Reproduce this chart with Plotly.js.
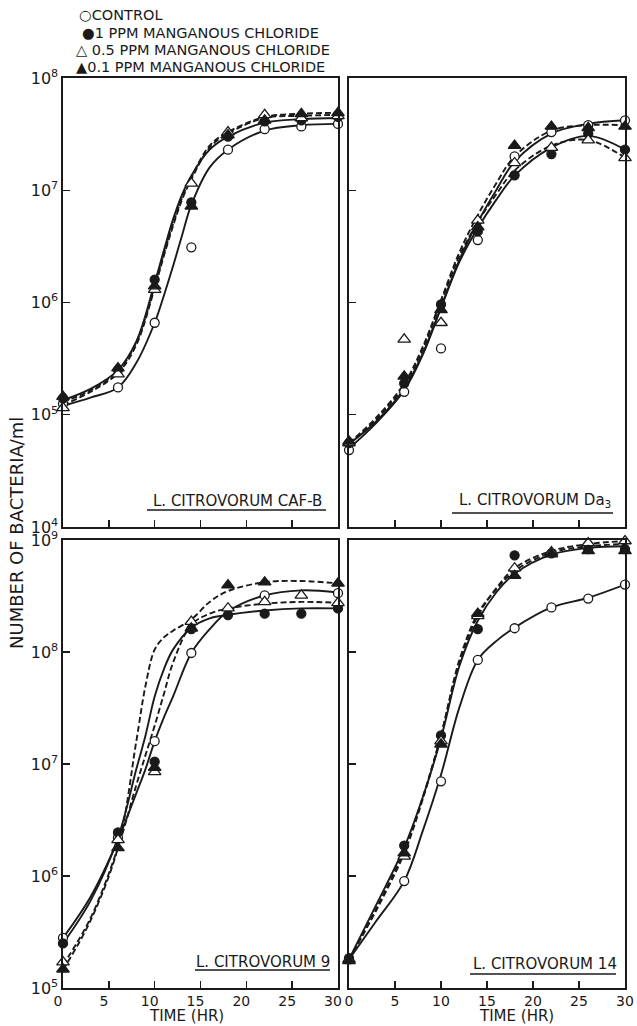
<!DOCTYPE html>
<html><head><meta charset="utf-8">
<script src="https://cdn.plot.ly/plotly-3.0.1.min.js"></script>
<style>html,body{margin:0;padding:0;background:#fff;}#chart{width:637px;height:1026px;}</style>
</head><body><div id="chart"></div>
<script>
// ---------- data ----------
const sampleTimes = [0, 6, 10, 14, 18, 22, 26, 30];
const seriesNames = ["CONTROL", "1 PPM MANGANOUS CHLORIDE", "0.5 PPM MANGANOUS CHLORIDE", "0.1 PPM MANGANOUS CHLORIDE"];
const legendSymbols = ["○", "●", "△ ", "▲"];
const panelTitles = ["L. CITROVORUM CAF-B", "L. CITROVORUM Da<sub>3</sub>", "L. CITROVORUM 9", "L. CITROVORUM 14"];
const xTickVals = [0, 5, 10, 15, 20, 25, 30];
const topYTickVals = [1e4, 1e5, 1e6, 1e7, 1e8];
const topYTickText = ["10<sup>4</sup>", "10<sup>5</sup>", "10<sup>6</sup>", "10<sup>7</sup>", "10<sup>8</sup>"];
const botYTickVals = [1e5, 1e6, 1e7, 1e8, 1e9];
const botYTickText = ["10<sup>5</sup>", "10<sup>6</sup>", "10<sup>7</sup>", "10<sup>8</sup>", "10<sup>9</sup>"];

// Panel 1: L. citrovorum CAF-B
const cafbControl = [1.25e5, 1.75e5, 6.6e5, 3.1e6, 2.3e7, 3.5e7, 3.7e7, 3.9e7];
const cafbMn1 = [1.4e5, 2.5e5, 1.6e6, 7.8e6, 3.0e7, 4.1e7, 4.2e7, 4.5e7];
const cafbMn05 = [1.15e5, 2.3e5, 1.3e6, 1.15e7, 3.3e7, 4.7e7, 4.4e7, 4.6e7];
const cafbMn01 = [1.45e5, 2.6e5, 1.4e6, 7.2e6, 3.1e7, 4.2e7, 4.8e7, 4.9e7];
const cafbFitTimes = [0, 3, 6, 8, 10, 11, 12, 13, 14, 16, 18, 22, 26, 30];
const cafbControlFit = [1.2e5, 1.42e5, 1.75e5, 2.9e5, 6.6e5, 1.15e6, 2.1e6, 4.0e6, 7.4e6, 1.6e7, 2.3e7, 3.4e7, 3.8e7, 3.9e7];
const cafbMn1Fit = [1.35e5, 1.7e5, 2.5e5, 4.5e5, 1.5e6, 2.9e6, 5.5e6, 9.2e6, 1.35e7, 2.3e7, 3.0e7, 4.0e7, 4.3e7, 4.4e7];
const cafbMn05Fit = [1.22e5, 1.6e5, 2.35e5, 4.2e5, 1.35e6, 2.6e6, 4.8e6, 8.3e6, 1.25e7, 2.4e7, 3.2e7, 4.4e7, 4.6e7, 4.7e7];
const cafbMn01Fit = [1.3e5, 1.65e5, 2.45e5, 4.4e5, 1.4e6, 2.7e6, 5.0e6, 8.6e6, 1.3e7, 2.5e7, 3.3e7, 4.5e7, 4.8e7, 4.9e7];

// Panel 2: L. citrovorum Da3
const da3Control = [4.85e4, 1.6e5, 3.9e5, 3.6e6, 2.0e7, 3.3e7, 3.8e7, 4.2e7];
const da3Mn1 = [5.6e4, 1.9e5, 9.6e5, 4.3e6, 1.36e7, 2.1e7, 3.2e7, 2.3e7];
const da3Mn05 = [5.6e4, 4.7e5, 6.6e5, 5.4e6, 1.75e7, 2.4e7, 2.8e7, 1.94e7];
const da3Mn01 = [5.8e4, 2.2e5, 8.6e5, 4.7e6, 2.5e7, 3.7e7, 3.6e7, 3.7e7];
const da3FitTimes = [0, 3, 6, 8, 10, 12, 14, 16, 18, 22, 26, 30];
const da3ControlFit = [5.0e4, 8.5e4, 1.65e5, 3.4e5, 9.0e5, 2.4e6, 5.2e6, 1.0e7, 1.8e7, 3.2e7, 3.9e7, 4.2e7];
const da3Mn1Fit = [5.5e4, 8.8e4, 1.7e5, 3.5e5, 9.0e5, 2.3e6, 4.6e6, 8.2e6, 1.35e7, 2.4e7, 3.05e7, 2.3e7];
const da3Mn05Fit = [5.5e4, 9.2e4, 1.8e5, 3.8e5, 1.0e6, 2.6e6, 5.2e6, 9.2e6, 1.5e7, 2.5e7, 2.8e7, 1.95e7];
const da3Mn01Fit = [5.6e4, 9.5e4, 1.9e5, 4.0e5, 1.05e6, 2.8e6, 6.0e6, 1.15e7, 2.0e7, 3.4e7, 3.8e7, 3.8e7];

// Panel 3: L. citrovorum 9
const s9Control = [2.8e5, 2.2e6, 1.6e7, 9.8e7, null, 3.2e8, null, 3.35e8];
const s9Mn1 = [2.5e5, 2.45e6, 1.05e7, 1.6e8, 2.14e8, 2.2e8, 2.2e8, 2.45e8];
const s9Mn05 = [1.7e5, 2.1e6, 8.5e6, 1.87e8, 2.46e8, 2.8e8, 3.2e8, 2.75e8];
const s9Mn01 = [1.47e5, 1.78e6, 9.3e6, 1.63e8, 3.95e8, 4.2e8, null, 4.1e8];
const s9FitTimes = [0, 3, 6, 8, 9, 10, 11, 12, 14, 16, 18, 22, 26, 30];
const s9ControlFit = [2.8e5, 6.5e5, 2.1e6, 5.5e6, 9.0e6, 1.6e7, 2.6e7, 4.0e7, 9.8e7, 1.6e8, 2.3e8, 3.2e8, 3.55e8, 3.4e8];
const s9Mn1Fit = [2.5e5, 6.0e5, 2.2e6, 9.0e6, 1.8e7, 4.0e7, 7.0e7, 1.05e8, 1.65e8, 2.0e8, 2.15e8, 2.35e8, 2.45e8, 2.45e8];
const s9Mn05Fit = [1.6e5, 4.2e5, 1.8e6, 6.5e6, 1.2e7, 2.2e7, 4.2e7, 8.0e7, 1.75e8, 2.2e8, 2.45e8, 2.7e8, 2.8e8, 2.75e8];
const s9Mn01Fit = [1.45e5, 4.0e5, 1.8e6, 1.6e7, 5.0e7, 1.05e8, 1.35e8, 1.55e8, 1.95e8, 2.8e8, 3.5e8, 4.2e8, 4.3e8, 4.1e8];

// Panel 4: L. citrovorum 14
const s14Control = [1.8e5, 9.0e5, 7.0e6, 8.5e7, 1.63e8, 2.5e8, 3.0e8, 4.0e8];
const s14Mn1 = [1.85e5, 1.87e6, 1.8e7, 1.6e8, 7.3e8, 7.6e8, 8.3e8, 8.3e8];
const s14Mn05 = [1.8e5, 1.5e6, 1.6e7, 2.1e8, 5.6e8, 7.8e8, 9.4e8, 9.8e8];
const s14Mn01 = [1.75e5, 1.6e6, 1.5e7, 2.2e8, 4.8e8, 7.5e8, 8.0e8, 8.0e8];
const s14FitTimes = [0, 3, 6, 8, 10, 12, 14, 16, 18, 22, 26, 30];
const s14ControlFit = [1.8e5, 4.0e5, 9.0e5, 2.5e6, 8.0e6, 3.2e7, 8.5e7, 1.25e8, 1.65e8, 2.5e8, 3.05e8, 4.0e8];
const s14Mn1Fit = [1.8e5, 5.6e5, 1.8e6, 5.0e6, 1.7e7, 7.5e7, 1.9e8, 3.4e8, 5.0e8, 7.4e8, 8.5e8, 8.8e8];
const s14Mn05Fit = [1.8e5, 5.2e5, 1.7e6, 5.0e6, 1.8e7, 8.0e7, 2.1e8, 3.7e8, 5.6e8, 8.0e8, 9.2e8, 9.8e8];
const s14Mn01Fit = [1.8e5, 5.0e5, 1.6e6, 4.8e6, 1.8e7, 8.5e7, 2.2e8, 3.6e8, 5.3e8, 7.7e8, 8.8e8, 9.2e8];

// ---------- build ----------
const W = 637, H = 1026;
const px = v => v / W;
const py = v => 1 - v / H;
const INK = '#1a1a1a';
const FONT = 'DejaVu Sans, Verdana, sans-serif';

const seriesStyle = [
  {dash: 'solid', symbol: 'circle', fill: '#ffffff', size: 9},
  {dash: 'solid', symbol: 'circle', fill: INK, size: 9},
  {dash: '6px,3px', symbol: 'triangle-up', fill: '#ffffff', size: 11},
  {dash: '6px,3px', symbol: 'triangle-up', fill: INK, size: 11}
];

const panels = [
  {xa: 'x', ya: 'y', fitT: cafbFitTimes, fits: [cafbControlFit, cafbMn1Fit, cafbMn05Fit, cafbMn01Fit], pts: [cafbControl, cafbMn1, cafbMn05, cafbMn01]},
  {xa: 'x2', ya: 'y2', fitT: da3FitTimes, fits: [da3ControlFit, da3Mn1Fit, da3Mn05Fit, da3Mn01Fit], pts: [da3Control, da3Mn1, da3Mn05, da3Mn01]},
  {xa: 'x3', ya: 'y3', fitT: s9FitTimes, fits: [s9ControlFit, s9Mn1Fit, s9Mn05Fit, s9Mn01Fit], pts: [s9Control, s9Mn1, s9Mn05, s9Mn01]},
  {xa: 'x4', ya: 'y4', fitT: s14FitTimes, fits: [s14ControlFit, s14Mn1Fit, s14Mn05Fit, s14Mn01Fit], pts: [s14Control, s14Mn1, s14Mn05, s14Mn01]}
];

const traces = [];
panels.forEach(p => {
  p.fits.forEach((f, i) => {
    traces.push({type: 'scatter', mode: 'lines', x: p.fitT, y: f, xaxis: p.xa, yaxis: p.ya,
      name: seriesNames[i] + ' (fit)', showlegend: false, hoverinfo: 'skip',
      line: {color: INK, width: 1.9, dash: seriesStyle[i].dash, shape: 'spline', smoothing: 1}});
  });
});
panels.forEach(p => {
  p.pts.forEach((v, i) => {
    const s = seriesStyle[i];
    traces.push({type: 'scatter', mode: 'markers', x: sampleTimes, y: v, xaxis: p.xa, yaxis: p.ya,
      name: seriesNames[i], showlegend: false, cliponaxis: false,
      marker: {symbol: s.symbol, size: s.size, color: s.fill, line: {color: INK, width: 1.3}}});
  });
});

const axisBase = {showline: true, linecolor: INK, linewidth: 1.6, mirror: true, ticks: 'inside',
  ticklen: 7, tickwidth: 1.4, tickcolor: INK, showgrid: false, zeroline: false,
  tickfont: {family: FONT, size: 16, color: INK}};

const xL = [63 / W, 338 / W], xR = [349 / W, 625 / W];
const yT = [1 - 527 / H, 1 - 78 / H], yB = [1 - 988 / H, 1 - 540 / H];

function xAxis(dom, anchor, labels, shift) {
  return Object.assign({}, axisBase, {domain: dom, anchor: anchor, range: [0, 30],
    tickmode: 'array', tickvals: labels ? xTickVals : xTickVals.slice(1, -1), showticklabels: labels,
    ticklabelshift: shift || 0, tickfont: {family: FONT, size: 14, color: INK}});
}
function yAxis(dom, anchor, vals, text, labels, rng) {
  return Object.assign({}, axisBase, {domain: dom, anchor: anchor, type: 'log', range: rng,
    tickmode: 'array', tickvals: vals, ticktext: text, showticklabels: labels});
}

const annotations = [];
// legend lines
const legendPos = [[77, 15], [80, 33], [74, 50], [74, 67]];
seriesNames.forEach((n, i) => {
  annotations.push({xref: 'paper', yref: 'paper', x: px(legendPos[i][0]), y: py(legendPos[i][1]),
    xanchor: 'left', yanchor: 'middle', showarrow: false,
    text: legendSymbols[i] + n, font: {family: FONT, size: 14.5, color: INK}});
});
// panel labels
const labelPos = [[237, 501], [535, 500], [263, 962], [545, 964]];
const underline = [[147, 326, 510], [452, 613, 513], [195, 330, 970], [470, 616, 974]];
panelTitles.forEach((t, i) => {
  annotations.push({xref: 'paper', yref: 'paper', x: px(labelPos[i][0]), y: py(labelPos[i][1]),
    xanchor: 'center', yanchor: 'middle', showarrow: false, text: t,
    font: {family: FONT, size: 15, color: INK}});
});
// axis titles
annotations.push({xref: 'paper', yref: 'paper', x: px(186), y: 0, xanchor: 'center', yanchor: 'bottom',
  showarrow: false, borderpad: 0, text: 'TIME (HR)', font: {family: FONT, size: 15, color: INK}});
annotations.push({xref: 'paper', yref: 'paper', x: px(516), y: 0, xanchor: 'center', yanchor: 'bottom',
  showarrow: false, borderpad: 0, text: 'TIME (HR)', font: {family: FONT, size: 15, color: INK}});
annotations.push({xref: 'paper', yref: 'paper', x: px(16), y: py(533), xanchor: 'center', yanchor: 'middle',
  showarrow: false, textangle: -90, text: 'NUMBER OF BACTERIA/ml', font: {family: FONT, size: 18, color: INK}});

const shapes = underline.map(u => ({type: 'line', xref: 'paper', yref: 'paper',
  x0: px(u[0]), x1: px(u[1]), y0: py(u[2]), y1: py(u[2]), line: {color: INK, width: 1.5}}));

const layout = {
  width: W, height: H, margin: {l: 0, r: 0, t: 0, b: 0},
  paper_bgcolor: '#ffffff', plot_bgcolor: '#ffffff', showlegend: false,
  font: {family: FONT, color: INK},
  xaxis: xAxis(xL, 'y', false),
  yaxis: yAxis(yT, 'x', topYTickVals, topYTickText, true, [4, 8]),
  xaxis2: xAxis(xR, 'y2', false),
  yaxis2: yAxis(yT, 'x2', topYTickVals, topYTickText, false, [4, 8]),
  xaxis3: xAxis(xL, 'y3', true, -5),
  yaxis3: yAxis(yB, 'x3', botYTickVals, botYTickText, true, [5, 9]),
  xaxis4: xAxis(xR, 'y4', true, 0),
  yaxis4: yAxis(yB, 'x4', botYTickVals, botYTickText, false, [5, 9]),
  annotations: annotations, shapes: shapes
};

Plotly.newPlot('chart', traces, layout, {staticPlot: true, displayModeBar: false});
</script></body></html>
